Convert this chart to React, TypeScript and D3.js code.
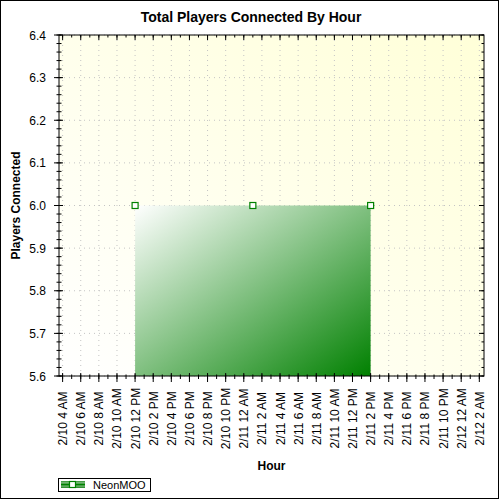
import * as d3 from 'd3'

// chart data
const seriesName = 'NeonMOO'
const sampleHours = ['2010-02-10 12:00', '2010-02-11 01:00', '2010-02-11 14:00']
const playerCounts = [6.0, 6.0, 6.0]
const hourDomain = ['2010-02-10 03:36', '2010-02-12 02:31']
const countDomain = [5.6, 6.4]

const parseHour = d3.timeParse('%Y-%m-%d %H:%M')
const formatHour = d3.timeFormat('%-m/%-d %-I %p')
const formatCount = d3.format('.1f')

const FONT = 'Arial, "Liberation Sans", sans-serif'

type Point = { time: Date; value: number }

export default function App() {
  const width = 500
  const height = 500
  const plot = { left: 59, right: 484, top: 35, bottom: 376 }

  const points: Point[] = sampleHours.map((h, i) => ({ time: parseHour(h) as Date, value: playerCounts[i] }))

  const x = d3
    .scaleTime()
    .domain(hourDomain.map((h) => parseHour(h) as Date))
    .range([plot.left, plot.right])
  const y = d3.scaleLinear().domain(countDomain).range([plot.bottom, plot.top])

  const xMajor = x.ticks(d3.timeHour.every(2) as d3.TimeInterval)
  const xMinor = x.ticks(d3.timeHour.every(1) as d3.TimeInterval)
  const yMajor = y.ticks(8)
  const yMinor = y.ticks(40)

  const area = d3
    .area<Point>()
    .x((p) => x(p.time))
    .y0(y(countDomain[0]))
    .y1((p) => y(p.value))

  const plotW = plot.right - plot.left
  const plotH = plot.bottom - plot.top

  return (
    <svg
      width={width}
      height={height}
      viewBox={`0 0 ${width} ${height}`}
      style={{ position: 'fixed', left: 0, top: 0, background: '#fff' }}
      fontFamily={FONT}
    >
      <defs>
        <linearGradient id="paneFill" x1="0" y1="1" x2="1" y2="0">
          <stop offset="0%" stopColor="#ffffff" />
          <stop offset="100%" stopColor="#ffffd8" />
        </linearGradient>
        <linearGradient id="areaFill" x1="0" y1="0" x2="1" y2="1">
          <stop offset="0%" stopColor="#ffffff" />
          <stop offset="100%" stopColor="#008000" />
        </linearGradient>
        <linearGradient id="legendFill" x1="0" y1="0" x2="0" y2="1">
          <stop offset="0%" stopColor="#2f912f" />
          <stop offset="45%" stopColor="#bfe0bf" />
          <stop offset="100%" stopColor="#1f861f" />
        </linearGradient>
      </defs>

      <rect x={0.5} y={0.5} width={498} height={498} fill="#fff" stroke="#000" />

      <text x={251} y={22} textAnchor="middle" fontSize="14" fontWeight="bold">
        Total Players Connected By Hour
      </text>

      <rect x={plot.left} y={plot.top} width={plotW} height={plotH} fill="url(#paneFill)" />

      {/* dotted grid */}
      {xMajor.map((t) => (
        <line
          key={`gx-${+t}`}
          x1={x(t)}
          x2={x(t)}
          y1={plot.top}
          y2={plot.bottom}
          stroke="#c4c4c4"
          strokeDasharray="1 4"
        />
      ))}
      {yMajor.map((t) => (
        <line
          key={`gy-${t}`}
          x1={plot.left}
          x2={plot.right}
          y1={y(t)}
          y2={y(t)}
          stroke="#c4c4c4"
          strokeDasharray="1 4"
        />
      ))}

      <path d={area(points) ?? ''} fill="url(#areaFill)" />
      {points.map((p) => (
        <rect
          key={+p.time}
          x={x(p.time) - 3}
          y={y(p.value) - 3}
          width={6}
          height={6}
          fill="#fff"
          stroke="#008000"
          strokeWidth="1.2"
        />
      ))}

      {/* frame and ticks */}
      <rect x={plot.left} y={plot.top} width={plotW} height={plotH} fill="none" stroke="#000" />
      <g stroke="#000">
        {xMinor.map((t) => (
          <g key={`xm-${+t}`}>
            <line x1={x(t)} x2={x(t)} y1={plot.bottom - 1.5} y2={plot.bottom + 3} />
            <line x1={x(t)} x2={x(t)} y1={plot.top} y2={plot.top + 2.5} />
          </g>
        ))}
        {xMajor.map((t) => (
          <g key={`xM-${+t}`}>
            <line x1={x(t)} x2={x(t)} y1={plot.bottom - 3} y2={plot.bottom + 6} />
            <line x1={x(t)} x2={x(t)} y1={plot.top} y2={plot.top + 5} />
          </g>
        ))}
        {yMinor.map((t) => (
          <g key={`ym-${t}`}>
            <line x1={plot.left - 2.5} x2={plot.left + 2.5} y1={y(t)} y2={y(t)} />
            <line x1={plot.right - 2.5} x2={plot.right} y1={y(t)} y2={y(t)} />
          </g>
        ))}
        {yMajor.map((t) => (
          <g key={`yM-${t}`}>
            <line x1={plot.left - 5} x2={plot.left + 4} y1={y(t)} y2={y(t)} />
            <line x1={plot.right - 5} x2={plot.right} y1={y(t)} y2={y(t)} />
          </g>
        ))}
      </g>

      {yMajor.map((t) => (
        <text key={`yl-${t}`} x={46} y={y(t) + 4.5} textAnchor="end" fontSize="12">
          {formatCount(t)}
        </text>
      ))}
      {xMajor.map((t) => (
        <text
          key={`xl-${+t}`}
          transform={`translate(${x(t) + 4.5},418.5) rotate(-90)`}
          textAnchor="middle"
          fontSize="12"
        >
          {formatHour(t)}
        </text>
      ))}

      <text x={(plot.left + plot.right) / 2} y={470} textAnchor="middle" fontSize="12" fontWeight="bold">
        Hour
      </text>
      <text
        transform={`translate(20,${(plot.top + plot.bottom) / 2}) rotate(-90)`}
        textAnchor="middle"
        fontSize="12"
        fontWeight="bold"
      >
        Players Connected
      </text>

      {/* legend */}
      <rect x={58.5} y={478.5} width={92} height={13} fill="#fff" stroke="#000" />
      <rect x={61} y={481} width={24} height={7} fill="url(#legendFill)" />
      <line x1={61} x2={85} y1={484.5} y2={484.5} stroke="#008000" strokeWidth="2" />
      <rect x={69.5} y={481.5} width={6} height={6} fill="#fff" stroke="#008000" strokeWidth="1.2" />
      <text x={93} y={489} fontSize="11">
        {seriesName}
      </text>
    </svg>
  )
}
